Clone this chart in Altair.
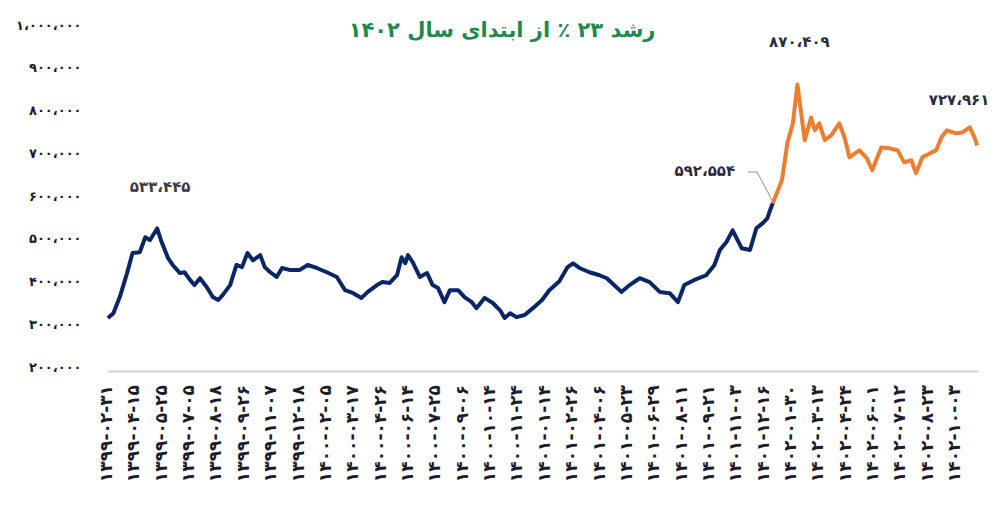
import altair as alt
import pandas as pd

# trading-day index (labels every 30 days) and price values
blue_day = [1, 7, 14, 22, 28, 36, 42, 47, 55, 60, 67, 72, 80, 85, 91, 96, 102, 110, 116, 122,
            127, 135, 142, 148, 154, 160, 168, 173, 179, 186, 192, 201, 211, 220, 230, 241, 252,
            261, 270, 279, 286, 296, 302, 310, 318, 323, 327, 330, 335, 343, 351, 357, 363, 370,
            376, 385, 392, 400, 405, 414, 423, 431, 436, 442, 449, 458, 467, 477, 485, 496, 505,
            511, 518, 529, 540, 548, 556, 564, 573, 584, 595, 606, 617, 626, 633, 644, 657, 666,
            672, 679, 686, 696, 705, 712, 719, 724, 727, 730]
blue_val = [324000, 335000, 373000, 429000, 476000, 478000, 513000, 506000, 533445, 501000,
            464000, 448000, 429000, 431000, 413000, 401000, 417000, 394000, 373000, 366000,
            378000, 401000, 448000, 443000, 476000, 459000, 471000, 443000, 431000, 420000,
            441000, 436000, 436000, 448000, 441000, 431000, 420000, 389000, 382000, 371000,
            385000, 401000, 408000, 406000, 424000, 466000, 452000, 471000, 455000, 420000,
            429000, 401000, 394000, 361000, 389000, 389000, 373000, 361000, 347000, 371000,
            359000, 342000, 324000, 335000, 326000, 331000, 347000, 366000, 389000, 410000,
            443000, 452000, 441000, 431000, 424000, 417000, 401000, 385000, 401000, 417000,
            408000, 385000, 382000, 361000, 401000, 413000, 424000, 448000, 483000, 501000,
            529000, 487000, 483000, 534000, 546000, 557000, 576000, 592554]
orange_day = [730, 740, 746, 752, 757, 765, 772, 776, 781, 787, 794, 803, 809, 814, 820, 825,
              833, 839, 849, 858, 867, 874, 882, 887, 894, 902, 909, 915, 921, 931, 938, 946,
              951, 954]
orange_val = [592554, 646000, 733000, 779000, 870409, 740000, 793000, 763000, 779000, 740000,
              751000, 779000, 744000, 700000, 709000, 716000, 698000, 670000, 723000, 721000,
              716000, 688000, 693000, 663000, 700000, 709000, 716000, 747000, 763000, 756000,
              758000, 770000, 747000, 727961]

x_tick_labels = ["۱۳۹۹-۰۲-۳۱", "۱۳۹۹-۰۴-۱۵", "۱۳۹۹-۰۵-۲۵", "۱۳۹۹-۰۷-۰۵", "۱۳۹۹-۰۸-۱۸",
                 "۱۳۹۹-۰۹-۲۶", "۱۳۹۹-۱۱-۰۷", "۱۳۹۹-۱۲-۱۸", "۱۴۰۰-۰۲-۰۵", "۱۴۰۰-۰۳-۱۷",
                 "۱۴۰۰-۰۴-۲۶", "۱۴۰۰-۰۶-۱۴", "۱۴۰۰-۰۷-۲۵", "۱۴۰۰-۰۹-۰۶", "۱۴۰۰-۱۰-۱۴",
                 "۱۴۰۰-۱۱-۲۴", "۱۴۰۱-۰۱-۱۴", "۱۴۰۱-۰۲-۲۶", "۱۴۰۱-۰۴-۰۶", "۱۴۰۱-۰۵-۲۳",
                 "۱۴۰۱-۰۶-۲۹", "۱۴۰۱-۰۸-۱۱", "۱۴۰۱-۰۹-۲۱", "۱۴۰۱-۱۱-۰۳", "۱۴۰۱-۱۲-۱۶",
                 "۱۴۰۲-۰۱-۳۰", "۱۴۰۲-۰۳-۱۳", "۱۴۰۲-۰۴-۲۴", "۱۴۰۲-۰۶-۰۱", "۱۴۰۲-۰۷-۱۲",
                 "۱۴۰۲-۰۸-۲۳", "۱۴۰۲-۱۰-۰۳"]
x_tick_days = [30 * i for i in range(len(x_tick_labels))]
y_tick_values = [200000, 300000, 400000, 500000, 600000, 700000, 800000, 900000, 1000000]
y_tick_labels = ["۲۰۰،۰۰۰", "۳۰۰،۰۰۰", "۴۰۰،۰۰۰", "۵۰۰،۰۰۰", "۶۰۰،۰۰۰", "۷۰۰،۰۰۰",
                 "۸۰۰،۰۰۰", "۹۰۰،۰۰۰", "۱،۰۰۰،۰۰۰"]

title_text = "رشد ۲۳ ٪ از ابتدای سال ۱۴۰۲"
ann_text = ["۵۳۳،۴۴۵", "۵۹۲،۵۵۴", "۸۷۰،۴۰۹", "۷۲۷،۹۶۱"]
ann_day = [55, 730, 757, 954]
ann_val = [533445, 592554, 870409, 727961]

FONT = "DejaVu Sans"
BLUE = "#0b2566"
ORANGE = "#ed7d31"
LABEL_COLOR = "#1c1c2c"

df = pd.concat([
    pd.DataFrame({"day": blue_day, "price": blue_val, "series": "1401"}),
    pd.DataFrame({"day": orange_day, "price": orange_val, "series": "1402"}),
])


def js_array(items):
    return "[" + ",".join("'" + s + "'" for s in items) + "]"


x_scale = alt.Scale(domain=[0, 955], nice=False, zero=False)
x_enc = alt.X("day:Q", scale=x_scale,
              axis=alt.Axis(values=x_tick_days, title=None, grid=False, ticks=False,
                            domain=True, domainColor="#d4d4d4", domainWidth=2,
                            labels=False))
y_enc = alt.Y("price:Q", scale=alt.Scale(domain=[200000, 1000000], nice=False, zero=False),
              axis=alt.Axis(values=y_tick_values, title=None, grid=False, ticks=False,
                            domain=False, labelPadding=26, labelFontSize=13,
                            labelFontWeight="bold", labelColor=LABEL_COLOR, labelFont=FONT,
                            labelOffset=-4,
                            labelExpr=js_array(y_tick_labels) + "[round(datum.value/100000)-2]"))

lines = alt.Chart(df).mark_line(strokeWidth=4, strokeJoin="round").encode(
    x=x_enc, y=y_enc,
    color=alt.Color("series:N", scale=alt.Scale(domain=["1401", "1402"], range=[BLUE, ORANGE]),
                    legend=None),
    detail="series:N",
)

xlab_df = pd.DataFrame({"day": x_tick_days, "label": x_tick_labels})
xlabels = alt.Chart(xlab_df).mark_text(
    angle=270, align="right", baseline="middle", font=FONT, fontSize=17,
    fontWeight="bold", color=LABEL_COLOR
).encode(x=alt.X("day:Q", scale=x_scale), y=alt.value(356), text="label:N")

ann_df = pd.DataFrame({"day": ann_day, "price": ann_val, "label": ann_text})
offsets = [(3, -41), (-68, -32), (2, -42), (-18, -45)]
ann_layers = []
for i, (dx, dy) in enumerate(offsets):
    ann_layers.append(
        alt.Chart(ann_df.iloc[[i]]).mark_text(
            dx=dx, dy=dy, font=FONT, fontSize=15, fontWeight="bold",
            color="#2b2b3b" if i else "#3c3c3c", baseline="middle", align="center"
        ).encode(x="day:Q", y="price:Q", text="label:N")
    )

leader1 = alt.Chart(ann_df.iloc[[1]]).mark_rule(color="#a6a6a6", strokeWidth=1.2).encode(
    x=alt.value(641), x2=alt.value(650), y=alt.value(143), y2=alt.value(143))
leader2 = alt.Chart(ann_df.iloc[[1]]).mark_rule(color="#a6a6a6", strokeWidth=1.2).encode(
    x=alt.value(650), x2=alt.value(665), y=alt.value(143), y2=alt.value(171))

title = alt.Chart(pd.DataFrame({"t": [title_text]})).mark_text(
    font=FONT, fontSize=21, fontWeight="bold", color="#1f8a4c", align="center",
    baseline="middle"
).encode(x=alt.value(395), y=alt.value(2), text="t:N")

chart = alt.layer(lines, xlabels, *ann_layers, leader1, leader2, title).properties(
    width=871, height=342,
    autosize=alt.AutoSizeParams(type="none"),
    padding={"left": 99, "top": 21, "right": 15, "bottom": 130},
).configure(background="white").configure_view(stroke=None)

chart.save("out.html", embed_options={"renderer": "svg", "actions": False})
